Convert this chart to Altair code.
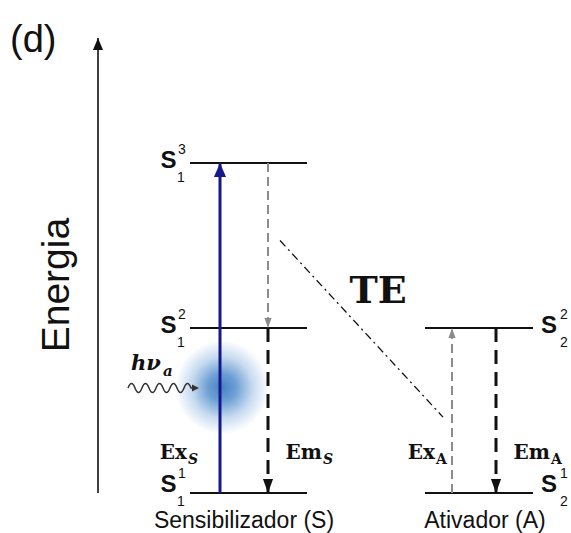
import altair as alt
import pandas as pd

W, H = 571, 533

# ---- energy levels (energy in arbitrary units, 0 = ground state) ----
level_species = ["S", "S", "S", "A", "A"]
level_energy = [0, 1, 2, 0, 1]
level_sup = ["1", "2", "3", "1", "2"]
level_sub = ["1", "1", "1", "2", "2"]

# ---- transitions between levels ----
trans_species = ["S", "S", "S", "A", "A"]
trans_from = [0, 2, 1, 0, 1]
trans_to = [2, 1, 0, 1, 0]
trans_kind = ["pump", "relax", "emit", "relax", "emit"]

# ---- energy transfer S -> A (dash-dot) ----
te_energy = [1.53, 0.46]

# ---- text ----
panel_tag = "(d)"
axis_title = "Energia"
transfer_label = "TE"
species_names = ["Sensibilizador (S)", "Ativador (A)"]
trans_labels = ["Ex", "Em", "Ex", "Em"]
trans_label_subs = ["S", "S", "A", "A"]
photon_label = "hν"
photon_sub = "a"

# horizontal layout of the diagram columns
col = {
    "S": dict(x0=190, x1=307, lab=168.5, sup=182, sub=181),
    "A": dict(x0=425, x1=533, lab=549, sup=564, sub=564),
}
trans_col = {("S", "pump"): 220, ("S", "relax"): 268, ("S", "emit"): 268,
             ("A", "relax"): 452, ("A", "emit"): 496}
axis_x = 98
axis_top = 2.758

xs = alt.Scale(domain=[0, W], nice=False, zero=False)
ys = alt.Scale(domain=[-40 / 165, 493 / 165], nice=False, zero=False)

levels = pd.DataFrame({
    "species": level_species, "e": level_energy,
    "sup": level_sup, "sub": level_sub,
})
levels["x"] = [col[s]["x0"] for s in levels.species]
levels["x2"] = [col[s]["x1"] for s in levels.species]
levels["xl"] = [col[s]["lab"] for s in levels.species]
levels["xsup"] = [col[s]["sup"] for s in levels.species]
levels["xsub"] = [col[s]["sub"] for s in levels.species]

trans = pd.DataFrame({
    "species": trans_species, "e": trans_from, "e2": trans_to, "kind": trans_kind,
})
trans["x"] = [trans_col[(s, k)] for s, k in zip(trans.species, trans.kind)]


def base(df):
    return alt.Chart(df)


def X(f="x"):
    return alt.X(f + ":Q", scale=xs, axis=None)


def Y(f="e"):
    return alt.Y(f + ":Q", scale=ys, axis=None)


layers = []

# excitation spot on the sensitizer
grad = alt.RadialGradient(
    gradient="radial",
    stops=[
        alt.GradientStop(offset=0.0, color="#4682c6"),
        alt.GradientStop(offset=0.3, color="#6e9fd4"),
        alt.GradientStop(offset=0.65, color="#c6daef"),
        alt.GradientStop(offset=1.0, color="#ffffff"),
    ],
    x1=0.5, y1=0.5, r1=0, x2=0.5, y2=0.5, r2=0.5,
)
spot = pd.DataFrame({"x": [222], "e": [0.64]})
layers.append(base(spot).mark_point(
    shape="circle", filled=True, fill=grad, size=8800, strokeWidth=0, opacity=1
).encode(x=X(), y=Y()))

# energy axis arrow
ax = pd.DataFrame({"x": [axis_x], "e": [0], "e2": [axis_top]})
layers.append(base(ax).mark_rule(color="#111", strokeWidth=1.6).encode(
    x=X(), y=Y(), y2=alt.Y2("e2:Q")))
layers.append(base(ax).mark_point(
    shape="M0,0L-0.42,1L0.42,1Z", filled=True, color="#111", size=576,
    strokeWidth=0, opacity=1).encode(x=X(), y=Y("e2")))

# level lines
layers.append(base(levels).mark_rule(color="#111", strokeWidth=2).encode(
    x=X(), x2=alt.X2("x2:Q"), y=Y()))

# transition shafts
styles = {
    "pump": dict(color="#14188a", strokeWidth=3),
    "relax": dict(color="#8c8c8c", strokeWidth=2, strokeDash=[9, 5]),
    "emit": dict(color="#111", strokeWidth=3, strokeDash=[14, 8]),
}
heads = {
    "pump": dict(color="#14188a", size=784, w=0.43),
    "relax": dict(color="#8c8c8c", size=400, w=0.36),
    "emit": dict(color="#111", size=784, w=0.36),
}
for kind, st in styles.items():
    layers.append(base(trans).transform_filter(
        alt.datum.kind == kind).mark_rule(**st).encode(
        x=X(), y=Y(), y2=alt.Y2("e2:Q")))
    hd = heads[kind]
    up = "M0,0L-{w},1L{w},1Z".format(w=hd["w"])
    down = "M0,0L-{w},-1L{w},-1Z".format(w=hd["w"])
    for shape, cond in [(up, alt.datum.e2 > alt.datum.e),
                        (down, alt.datum.e2 < alt.datum.e)]:
        layers.append(base(trans).transform_filter(
            alt.datum.kind == kind).transform_filter(cond).mark_point(
            shape=shape, filled=True, color=hd["color"], size=hd["size"],
            strokeWidth=0, opacity=1).encode(x=X(), y=Y("e2")))

# energy transfer S -> A
te = pd.DataFrame({"x": [280, 443], "e": te_energy})
layers.append(base(te).mark_line(
    color="#111", strokeWidth=1.3, strokeDash=[8, 4, 2, 4]).encode(x=X(), y=Y()))

# incoming photon (wavy arrow)
photon = pd.DataFrame({"x": [163], "e": [0.636]})
wave = ("M-1,0 Q-0.9,-0.26 -0.8,0 T-0.6,0 T-0.4,0 T-0.2,0 T0,0 "
        "T0.2,0 T0.4,0 T0.6,0 T0.8,0 L0.95,0")
layers.append(base(photon).mark_point(
    shape=wave, filled=False, stroke="#333", strokeWidth=1.5, size=4900,
    opacity=1).encode(x=X(), y=Y()))
photon_tip = pd.DataFrame({"x": [199], "e": [0.636]})
layers.append(base(photon_tip).mark_point(
    shape="M0,0L-1,-0.5L-1,0.5Z", filled=True, color="#333", size=196,
    strokeWidth=0, opacity=1).encode(x=X(), y=Y()))

# level labels  S (sub/superscripted); ground-state labels sit a little higher
lab = base(levels).transform_calculate(
    ly="datum.e == 0 ? datum.e + 0.036 : datum.e")
sans = "Liberation Sans"
layers.append(lab.mark_text(
    font=sans, fontSize=24, fontWeight="bold", align="center",
    baseline="alphabetic", dy=5, color="#111", text="S").encode(
    x=X("xl"), y=Y("ly")))
layers.append(lab.mark_text(
    font=sans, fontSize=14, align="center", baseline="alphabetic",
    dy=-9, color="#111").encode(x=X("xsup"), y=Y("ly"), text="sup:N"))
layers.append(lab.mark_text(
    font=sans, fontSize=14, align="center", baseline="alphabetic",
    dy=19, color="#111").encode(x=X("xsub"), y=Y("ly"), text="sub:N"))

# free text
def text(t, x, e, **kw):
    d = pd.DataFrame({"t": [t], "x": [x], "e": [e]})
    opts = dict(color="#111", baseline="alphabetic")
    opts.update(kw)
    return base(d).mark_text(**opts).encode(x=X(), y=Y(), text="t:N")


layers.append(text(panel_tag, 10, 2.673, font=sans, fontSize=38, align="left"))
layers.append(text(axis_title, 57, 1.26, font=sans, fontSize=39, angle=270,
                   align="center", baseline="middle"))
layers.append(text(species_names[0], 244, -0.21, font=sans, fontSize=23,
                   align="center"))
layers.append(text(species_names[1], 485, -0.21, font=sans, fontSize=23,
                   align="center"))

serif = "DejaVu Serif"
layers.append(text(transfer_label, 378, 1.152, font=serif, fontSize=38,
                   fontWeight="bold", align="center"))

trans_label_x = [187, 322, 435, 550]
for t, s, xr in zip(trans_labels, trans_label_subs, trans_label_x):
    layers.append(text(t, xr, 0.205, font=serif, fontSize=20,
                       fontWeight="bold", align="right"))
    layers.append(text(s, xr + 1, 0.175, font=serif, fontSize=14,
                       fontWeight="bold",
                       fontStyle="italic" if s == "S" else "normal",
                       align="left"))

layers.append(text(photon_label, 131, 0.745, font=serif, fontSize=21,
                   fontStyle="italic", fontWeight="bold", align="left"))
layers.append(text(photon_sub, 163, 0.712, font=serif, fontSize=15,
                   fontStyle="italic", fontWeight="bold", align="left"))

chart = alt.layer(*layers).properties(
    width=W, height=H, padding=0, autosize="none", background="white"
).configure_view(stroke=None)

chart.save("out.html", embed_options={"renderer": "svg", "actions": False})
